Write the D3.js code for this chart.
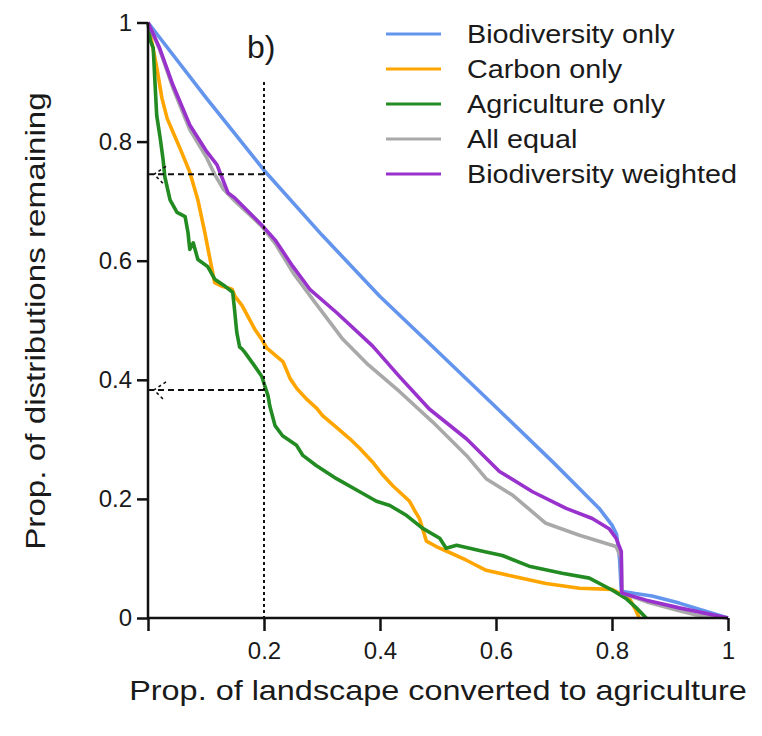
<!DOCTYPE html>
<head>
  <meta charset="utf-8" />
  <script src="https://d3js.org/d3.v7.min.js"></script>
  <style>
    body { margin: 0; background: #fff; }
    text { font-family: "Liberation Sans", Arial, sans-serif; fill: #1a1a1a; }
  </style>
</head>
<body>
  <div id="chart"></div>
  <script>
    // valeurs : [proportion convertie, proportion restante]
    const biodiversityOnly = [[0,1],[0.1,0.874],[0.2,0.752],[0.3,0.643],[0.4,0.54],[0.5,0.447],[0.6,0.354],[0.7,0.26],[0.778,0.184],[0.8,0.156],[0.808,0.14],[0.813,0.1],[0.816,0.045],[0.84,0.041],[0.869,0.037],[0.916,0.025],[1,0]];
    const carbonOnly = [[0,1],[0.008,0.96],[0.015,0.925],[0.024,0.873],[0.033,0.839],[0.043,0.816],[0.055,0.789],[0.072,0.749],[0.086,0.702],[0.098,0.647],[0.107,0.602],[0.115,0.563],[0.128,0.557],[0.145,0.552],[0.15,0.54],[0.162,0.525],[0.172,0.507],[0.184,0.485],[0.196,0.468],[0.205,0.453],[0.233,0.43],[0.245,0.402],[0.257,0.385],[0.273,0.368],[0.291,0.352],[0.301,0.34],[0.325,0.32],[0.348,0.301],[0.365,0.285],[0.387,0.262],[0.405,0.24],[0.422,0.222],[0.451,0.196],[0.46,0.18],[0.468,0.167],[0.475,0.145],[0.48,0.129],[0.497,0.12],[0.52,0.11],[0.549,0.097],[0.583,0.08],[0.629,0.07],[0.686,0.058],[0.744,0.05],[0.8,0.048],[0.83,0.033],[0.84,0.015],[0.847,0]];
    const agricultureOnly = [[0,1],[0.004,0.97],[0.009,0.957],[0.012,0.9],[0.015,0.844],[0.021,0.806],[0.026,0.77],[0.029,0.741],[0.038,0.702],[0.05,0.681],[0.064,0.674],[0.069,0.647],[0.072,0.619],[0.078,0.63],[0.086,0.602],[0.103,0.59],[0.115,0.569],[0.133,0.557],[0.146,0.547],[0.149,0.52],[0.153,0.48],[0.158,0.455],[0.162,0.452],[0.167,0.446],[0.184,0.423],[0.196,0.406],[0.207,0.373],[0.21,0.356],[0.219,0.323],[0.232,0.306],[0.256,0.29],[0.267,0.273],[0.29,0.256],[0.325,0.234],[0.365,0.212],[0.394,0.196],[0.417,0.189],[0.446,0.172],[0.473,0.151],[0.503,0.134],[0.514,0.117],[0.532,0.122],[0.577,0.112],[0.611,0.105],[0.657,0.087],[0.714,0.075],[0.761,0.067],[0.8,0.047],[0.824,0.033],[0.842,0.017],[0.859,0]];
    const allEqual = [[0,1],[0.02,0.955],[0.043,0.89],[0.072,0.82],[0.1,0.775],[0.115,0.745],[0.13,0.72],[0.15,0.7],[0.196,0.658],[0.22,0.628],[0.25,0.58],[0.284,0.535],[0.336,0.468],[0.38,0.425],[0.434,0.38],[0.491,0.329],[0.549,0.273],[0.583,0.234],[0.629,0.206],[0.686,0.159],[0.744,0.139],[0.807,0.12],[0.816,0.1],[0.817,0.042],[0.86,0.027],[0.916,0.012],[0.945,0.005],[1,0]];
    const biodiversityWeighted = [[0,1],[0.02,0.957],[0.043,0.895],[0.072,0.828],[0.1,0.785],[0.119,0.761],[0.127,0.741],[0.138,0.714],[0.15,0.705],[0.196,0.66],[0.219,0.635],[0.25,0.59],[0.279,0.552],[0.325,0.513],[0.387,0.457],[0.434,0.405],[0.485,0.351],[0.549,0.301],[0.606,0.246],[0.663,0.212],[0.721,0.184],[0.766,0.167],[0.795,0.15],[0.807,0.134],[0.816,0.112],[0.817,0.042],[0.859,0.03],[0.916,0.017],[1,0]];

    const seriesNames = ["Biodiversity only", "Carbon only", "Agriculture only", "All equal", "Biodiversity weighted"];
    const seriesColors = ["#6495ed", "#ffa500", "#228b22", "#a9a9a9", "#9932cc"];
    const seriesData = [biodiversityOnly, carbonOnly, agricultureOnly, allEqual, biodiversityWeighted];

    const xTicks = [0, 0.2, 0.4, 0.6, 0.8, 1];
    const yTicks = [0, 0.2, 0.4, 0.6, 0.8, 1];
    const xCut = 0.2;              // ligne pointillée verticale
    const yMarks = [0.745, 0.383]; // lignes tiretées horizontales

    const width = 762, height = 736;

    const svg = d3.select("#chart").append("svg")
      .attr("width", width)
      .attr("height", height);

    const x = d3.scaleLinear().domain([0, 1]).range([148, 728]);
    const y = d3.scaleLinear().domain([0, 1]).range([618, 22.5]);

    // courbes (gris dessiné avant le violet)
    const line = d3.line()
      .x(function (d) { return x(d[0]); })
      .y(function (d) { return y(d[1]); });

    svg.append("g")
      .selectAll("path")
      .data(seriesData)
      .join("path")
      .attr("d", line)
      .attr("fill", "none")
      .attr("stroke", function (d, i) { return seriesColors[i]; })
      .attr("stroke-width", 3.6)
      .attr("stroke-linejoin", "round");

    // repères pointillés
    const marks = svg.append("g")
      .attr("stroke", "#111")
      .attr("stroke-width", 2)
      .attr("fill", "none");

    marks.append("line")
      .attr("x1", x(xCut)).attr("x2", x(xCut))
      .attr("y1", y(0.9)).attr("y2", y(0))
      .attr("stroke-dasharray", "3,3");

    marks.selectAll(".h")
      .data(yMarks)
      .join("line")
      .attr("x1", x(0)).attr("x2", x(xCut))
      .attr("y1", function (d) { return y(d); })
      .attr("y2", function (d) { return y(d); })
      .attr("stroke-dasharray", "6,4");

    marks.selectAll(".arrow")
      .data(yMarks)
      .join("path")
      .attr("d", function (d) {
        const px = x(0) + 6, py = y(d);
        return "M" + (px + 12) + "," + (py - 8) + "L" + px + "," + py + "L" + (px + 10) + "," + (py + 10);
      })
      .attr("stroke-width", 1.6)
      .attr("stroke-dasharray", "3,3");

    // axes
    const axisX = svg.append("g")
      .attr("transform", "translate(0," + y(0) + ")")
      .call(d3.axisBottom(x).tickValues(xTicks).tickSize(13)
        .tickFormat(function (d) { return d === 0 ? "" : d3.format("~g")(d); }));

    const axisY = svg.append("g")
      .attr("transform", "translate(" + x(0) + ",0)")
      .call(d3.axisLeft(y).tickValues(yTicks).tickSize(11).tickPadding(5)
        .tickFormat(d3.format("~g")));

    [axisX, axisY].forEach(function (a) {
      a.select(".domain").attr("stroke", "#111").attr("stroke-width", 2.5);
      a.selectAll(".tick line").attr("stroke", "#111").attr("stroke-width", 2.5);
      a.selectAll("text").style("font-size", "24px").attr("fill", "#1a1a1a")
        .style("font-family", "'Liberation Sans', Arial, sans-serif");
    });
    axisX.selectAll("text").attr("dy", "1.05em");
    axisX.select(".domain").attr("d", "M" + x(0) + ",0H" + x(1));
    axisY.select(".domain").attr("d", "M0," + y(0) + "V" + y(1));

    // titres
    svg.append("text")
      .attr("transform", "translate(438,700) scale(1.2,1)")
      .attr("text-anchor", "middle")
      .style("font-size", "27px")
      .text("Prop. of landscape converted to agriculture");

    svg.append("text")
      .attr("transform", "translate(45,321) rotate(-90) scale(1.23,1)")
      .attr("text-anchor", "middle")
      .style("font-size", "27px")
      .text("Prop. of distributions remaining");

    svg.append("text")
      .attr("x", 247).attr("y", 58)
      .style("font-size", "32px")
      .text("b)");

    // légende
    const legend = svg.append("g")
      .selectAll("g")
      .data(seriesNames)
      .join("g")
      .attr("transform", function (d, i) { return "translate(386," + (34 + i * 35) + ")"; });

    legend.append("line")
      .attr("x1", 0).attr("x2", 55)
      .attr("stroke", function (d, i) { return seriesColors[i]; })
      .attr("stroke-width", 3);

    legend.append("text")
      .attr("transform", "translate(81,0) scale(1.15,1)")
      .attr("dy", "0.36em")
      .style("font-size", "25px")
      .text(function (d) { return d; });
  </script>
</body>
